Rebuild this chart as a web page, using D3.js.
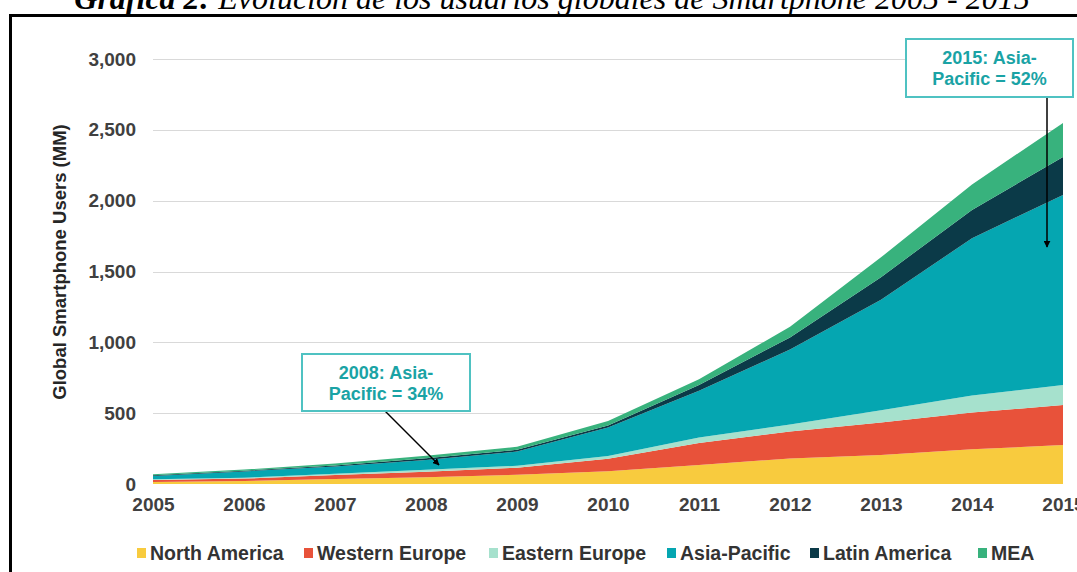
<!DOCTYPE html>
<html>
<head>
<meta charset="utf-8">
<script src="https://cdn.jsdelivr.net/npm/d3@7"></script>
<style>
  body { margin: 0; background: #fff; }
  svg { display: block; font-family: "Liberation Sans", Arial, sans-serif; }
</style>
</head>
<body>
<div id="wrapper"></div>
<script>
// 1. Data (users in millions)

const years = [2005, 2006, 2007, 2008, 2009, 2010, 2011, 2012, 2013, 2014, 2015]
const northAmerica = [15, 22, 35, 48, 65, 90, 135, 180, 205, 245, 275]
const westernEurope = [13, 16, 28, 38, 50, 88, 155, 190, 230, 260, 282]
const easternEurope = [5, 6, 10, 14, 14, 20, 38, 50, 85, 120, 142]
const asiaPacific = [24, 45, 50, 70, 100, 200, 330, 530, 780, 1110, 1341]
const latinAmerica = [4, 5, 8, 12, 12, 15, 40, 85, 160, 200, 268]
const mea = [8, 8, 14, 17, 22, 32, 42, 75, 140, 180, 240]

const regions = ['North America', 'Western Europe', 'Eastern Europe', 'Asia-Pacific', 'Latin America', 'MEA']
const series = [northAmerica, westernEurope, easternEurope, asiaPacific, latinAmerica, mea]
const colors = ['#F8CB3E', '#E8523A', '#A6E1CD', '#05A6B1', '#0B3A48', '#38B27D']
const yTicks = [0, 500, 1000, 1500, 2000, 2500, 3000]

const titleBold = 'Gráfica 2:'
const titleRest = ' Evolución de los usuarios globales de Smartphone 2005 - 2015'
const yLabel = 'Global Smartphone Users (MM)'
const notes = [
  { lines: ['2008: Asia-', 'Pacific = 34%'], year: 2008 },
  { lines: ['2015: Asia-', 'Pacific = 52%'], year: 2015 },
]

// 2. Dimensions

const dimensions = { width: 1077, height: 572 }

// 3. Canvas

const wrapper = d3
  .select('#wrapper')
  .append('svg')
  .attr('width', dimensions.width)
  .attr('height', dimensions.height)

wrapper
  .append('marker')
  .attr('id', 'arrow')
  .attr('viewBox', '0 0 10 10')
  .attr('refX', 9)
  .attr('refY', 5)
  .attr('markerWidth', 7)
  .attr('markerHeight', 7)
  .attr('markerUnits', 'userSpaceOnUse')
  .attr('orient', 'auto')
  .append('path')
  .attr('d', 'M0,0 L10,5 L0,10 Z')
  .attr('fill', '#000')

// title, cut off by the top of the picture
const title = wrapper
  .append('text')
  .attr('x', 552)
  .attr('y', 9)
  .attr('text-anchor', 'middle')
  .style('font-family', '"Liberation Serif", "Times New Roman", serif')
  .style('font-style', 'italic')
  .style('font-size', '32px')
  .attr('fill', '#000')
title.append('tspan').style('font-weight', 'bold').text(titleBold)
title.append('tspan').text(titleRest)

// frame
wrapper
  .append('rect')
  .attr('x', 10.5)
  .attr('y', 15.5)
  .attr('width', 1100)
  .attr('height', 600)
  .attr('fill', 'none')
  .attr('stroke', '#000')
  .attr('stroke-width', 3)

// 4. Scales

const xScale = d3.scaleLinear().domain([2005, 2015]).range([153, 1063])
const yScale = d3.scaleLinear().domain([0, 3000]).range([484, 59])

// gridlines
wrapper
  .append('g')
  .selectAll('line')
  .data(yTicks.filter((d) => d > 0))
  .join('line')
  .attr('x1', xScale(2005))
  .attr('x2', xScale(2015))
  .attr('y1', (d) => Math.round(yScale(d)) + 0.5)
  .attr('y2', (d) => Math.round(yScale(d)) + 0.5)
  .attr('stroke', '#d9d9d9')
  .attr('stroke-width', 1)

// 5. Draw data

const table = years.map((year, i) => {
  const row = { year }
  regions.forEach((r, j) => (row[r] = series[j][i]))
  return row
})
const stacked = d3.stack().keys(regions)(table)

const area = d3
  .area()
  .x((d) => xScale(d.data.year))
  .y0((d) => yScale(d[0]))
  .y1((d) => yScale(d[1]))

wrapper
  .append('g')
  .selectAll('path')
  .data(stacked)
  .join('path')
  .attr('d', area)
  .attr('fill', (d, i) => colors[i])

// 6. Peripherals

const yAxis = wrapper
  .append('g')
  .attr('transform', 'translate(136,0)')
  .call(d3.axisLeft(yScale).tickValues(yTicks).tickFormat(d3.format(',')).tickSize(0).tickPadding(0))
yAxis.select('.domain').remove()
yAxis
  .selectAll('text')
  .attr('fill', '#404040')
  .style('font-size', '19px')
  .style('font-weight', 'bold')
  .style('font-family', '"Liberation Sans", Arial, sans-serif')

const xAxis = wrapper
  .append('g')
  .attr('transform', 'translate(0,497)')
  .call(d3.axisBottom(xScale).tickValues(years).tickFormat(d3.format('d')).tickSize(0).tickPadding(0))
xAxis.select('.domain').remove()
xAxis
  .selectAll('text')
  .attr('fill', '#404040')
  .style('font-size', '19px')
  .style('font-weight', 'bold')
  .style('font-family', '"Liberation Sans", Arial, sans-serif')

wrapper
  .append('text')
  .attr('transform', 'translate(66,262) rotate(-90)')
  .attr('text-anchor', 'middle')
  .attr('fill', '#262626')
  .style('font-size', '18.5px')
  .style('font-weight', 'bold')
  .text(yLabel)

// annotations
const noteBoxes = [
  { x: 302, y: 354, w: 168, h: 57, from: [385, 411], to: [439, 465] },
  { x: 906, y: 39, w: 167, h: 58, from: [1047, 97], to: [1047, 247] },
]
notes.forEach((note, i) => {
  const b = noteBoxes[i]
  const g = wrapper.append('g')
  g.append('line')
    .attr('x1', b.from[0])
    .attr('y1', b.from[1])
    .attr('x2', b.to[0])
    .attr('y2', b.to[1])
    .attr('stroke', '#000')
    .attr('stroke-width', 1.5)
    .attr('marker-end', 'url(#arrow)')
  g.append('rect')
    .attr('x', b.x)
    .attr('y', b.y)
    .attr('width', b.w)
    .attr('height', b.h)
    .attr('fill', '#fff')
    .attr('stroke', '#4fc2c2')
    .attr('stroke-width', 2)
  g.selectAll('text')
    .data(note.lines)
    .join('text')
    .attr('x', b.x + b.w / 2)
    .attr('y', (d, j) => b.y + 25 + j * 21)
    .attr('text-anchor', 'middle')
    .attr('fill', '#1aa3a5')
    .style('font-size', '18px')
    .style('font-weight', 'bold')
    .text((d) => d)
})

// legend
const legendX = [137, 304, 489, 667, 810, 978]
const legend = wrapper.append('g')
regions.forEach((r, i) => {
  const item = legend.append('g').attr('transform', `translate(${legendX[i]},0)`)
  item.append('rect').attr('x', 0).attr('y', 548).attr('width', 9).attr('height', 10).attr('fill', colors[i])
  item
    .append('text')
    .attr('x', 13)
    .attr('y', 560)
    .attr('fill', '#333')
    .style('font-size', '19.5px')
    .style('font-weight', 'bold')
    .text(r)
})
</script>
</body>
</html>
